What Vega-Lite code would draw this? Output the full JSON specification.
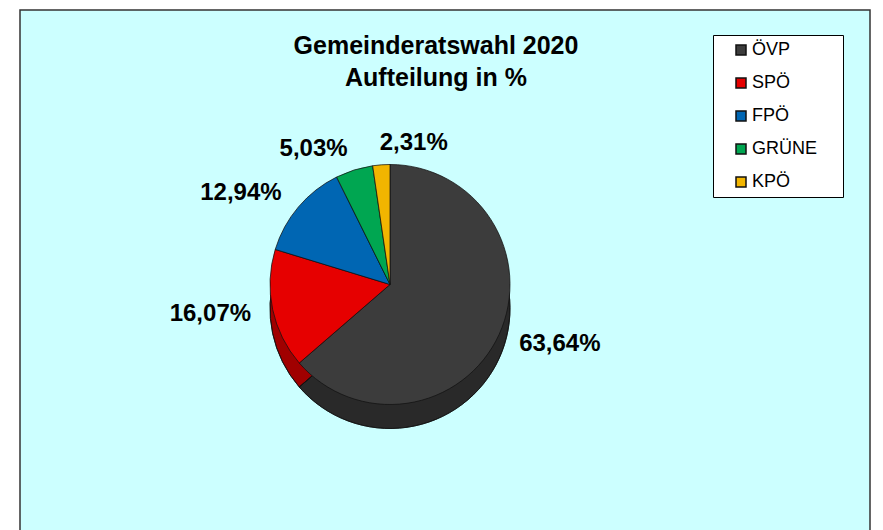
{
  "$schema": "https://vega.github.io/schema/vega-lite/v6.json",
  "width": 850,
  "height": 525,
  "autosize": {"type": "none"},
  "padding": {"left": 20, "top": 10, "right": 13, "bottom": 0},
  "background": "white",
  "view": {"fill": "#ccffff", "stroke": "#333333", "strokeWidth": 1.5},
  "config": {
    "view": {"fill": "#ccffff", "stroke": "#333333", "strokeWidth": 1.5},
    "font": "Liberation Sans"
  },
  "title": {
    "text": ["Gemeinderatswahl 2020", "Aufteilung in %"],
    "font": "Liberation Sans",
    "fontSize": 25,
    "fontWeight": "bold",
    "color": "black",
    "anchor": "middle",
    "dx": -9,
    "offset": -81,
    "lineHeight": 32
  },
  "data": {
    "values": [
      {"nr": 1, "partei": "ÖVP", "anteil": 63.64, "label": "63,64%"},
      {"nr": 2, "partei": "SPÖ", "anteil": 16.07, "label": "16,07%"},
      {"nr": 3, "partei": "FPÖ", "anteil": 12.94, "label": "12,94%"},
      {"nr": 4, "partei": "GRÜNE", "anteil": 5.03, "label": "5,03%"},
      {"nr": 5, "partei": "KPÖ", "anteil": 2.31, "label": "2,31%"}
    ]
  },
  "encoding": {
    "theta": {"field": "anteil", "type": "quantitative", "stack": true},
    "order": {"field": "nr", "type": "quantitative"}
  },
  "layer": [
    {
      "mark": {"type": "arc", "outerRadius": 120, "xOffset": -55, "yOffset": 36, "stroke": "#111111", "strokeWidth": 0.75},
      "encoding": {
        "color": {
          "field": "partei",
          "type": "nominal",
          "sort": null,
          "scale": {
            "domain": ["ÖVP", "SPÖ", "FPÖ", "GRÜNE", "KPÖ"],
            "range": ["#3c3c3c", "#e60000", "#0066b3", "#00a651", "#f2b500"]
          },
          "legend": {
            "title": "MM",
            "titleOrient": "right",
            "titleColor": "rgba(0,0,0,0)",
            "titleFontSize": 12,
            "titlePadding": 0,
            "orient": "none",
            "legendX": 693,
            "legendY": 25,
            "direction": "vertical",
            "fillColor": "white",
            "strokeColor": "black",
            "padding": 6,
            "symbolType": "square",
            "symbolSize": 100,
            "symbolStrokeColor": "black",
            "symbolStrokeWidth": 1.5,
            "symbolOffset": 13,
            "labelOffset": 2,
            "labelFont": "Liberation Sans",
            "labelFontSize": 18,
            "labelColor": "black",
            "rowPadding": 15
          }
        }
      }
    },
    {
      "mark": {"type": "arc", "outerRadius": 120, "xOffset": -55, "yOffset": 36, "fill": "black", "fillOpacity": 0.3, "stroke": "#111111", "strokeWidth": 0.75},
      "encoding": {}
    },
    {
      "mark": {"type": "arc", "outerRadius": 120, "xOffset": -55, "yOffset": 12, "stroke": "#111111", "strokeWidth": 0.75},
      "encoding": {
        "color": {"field": "partei", "type": "nominal", "sort": null}
      }
    },
    {
      "mark": {
        "type": "text",
        "radius": 142,
        "xOffset": -55,
        "yOffset": 12,
        "font": "Liberation Sans",
        "fontSize": 24,
        "fontWeight": "bold",
        "color": "black",
        "baseline": "middle",
        "align": {"expr": "datum.partei === 'ÖVP' || datum.partei === 'KPÖ' ? 'left' : 'right'"}
      },
      "encoding": {
        "text": {"field": "label", "type": "nominal"}
      }
    }
  ]
}
